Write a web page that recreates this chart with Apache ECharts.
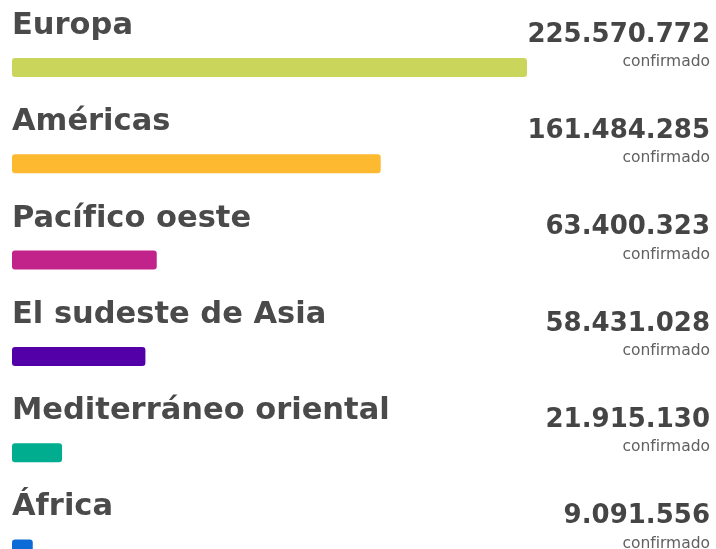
<!DOCTYPE html>
<html lang="es">
<head>
    <meta charset="UTF-8">
    <title>Casos confirmados por región</title>
    <script src="https://cdn.jsdelivr.net/npm/echarts@6/dist/echarts.min.js"></script>
    <style>
        html, body { margin: 0; padding: 0; background: #ffffff; }
        #main { width: 716px; height: 549px; }
    </style>
</head>
<body>
<div id="main"></div>

<script type="text/javascript">
    // datos
    var regions = ['Europa', 'Américas', 'Pacífico oeste', 'El sudeste de Asia', 'Mediterráneo oriental', 'África'];
    var confirmed = [225570772, 161484285, 63400323, 58431028, 21915130, 9091556];
    var barColors = ['#c9d65b', '#fdb92f', '#c1238b', '#5300a8', '#00ad8f', '#0c6bd6'];
    var subLabel = 'confirmado';

    // 225570772 -> 225.570.772
    function fmt(n) {
        return String(n).replace(/\B(?=(\d{3})+(?!\d))/g, '.');
    }

    var chart = echarts.init(document.getElementById('main'));

    var option = {
        backgroundColor: '#ffffff',
        animation: false,
        grid: {
            left: 12,
            width: 515,
            top: 19.35,
            height: 577.8,   // la última fila queda cortada abajo
            outerBoundsMode: 'none'
        },
        xAxis: {
            type: 'value',
            min: 0,
            max: 'dataMax',
            show: false,
            splitLine: { show: false }
        },
        yAxis: {
            type: 'category',
            inverse: true,
            position: 'right',
            data: regions,
            axisLine: { show: false },
            axisTick: { show: false },
            axisLabel: {
                interval: 0,
                margin: 183,
                align: 'right',
                verticalAlign: 'middle',
                padding: [0, 0, 41, 0],
                formatter: function (value, index) {
                    return '{v|' + fmt(confirmed[index]) + '}\n{c|' + subLabel + '}';
                },
                rich: {
                    v: {
                        fontFamily: 'DejaVu Sans',
                        fontWeight: 'bold',
                        fontSize: 26,
                        lineHeight: 30,
                        color: '#454545',
                        align: 'right'
                    },
                    c: {
                        fontFamily: 'DejaVu Sans',
                        fontSize: 15.5,
                        lineHeight: 24,
                        color: '#606060',
                        align: 'right'
                    }
                }
            }
        },
        series: [
            {
                type: 'bar',
                barWidth: 19,
                data: confirmed.map(function (v, i) {
                    return {
                        value: v,
                        itemStyle: { color: barColors[i] }
                    };
                }),
                itemStyle: {
                    borderRadius: 3
                },
                label: {
                    show: true,
                    position: [0, -32],
                    align: 'left',
                    verticalAlign: 'middle',
                    formatter: '{b}',
                    fontFamily: 'DejaVu Sans',
                    fontWeight: 'bold',
                    fontSize: 30.5,
                    color: '#4a4a4a'
                }
            }
        ]
    };

    chart.setOption(option);
</script>
</body>
</html>
